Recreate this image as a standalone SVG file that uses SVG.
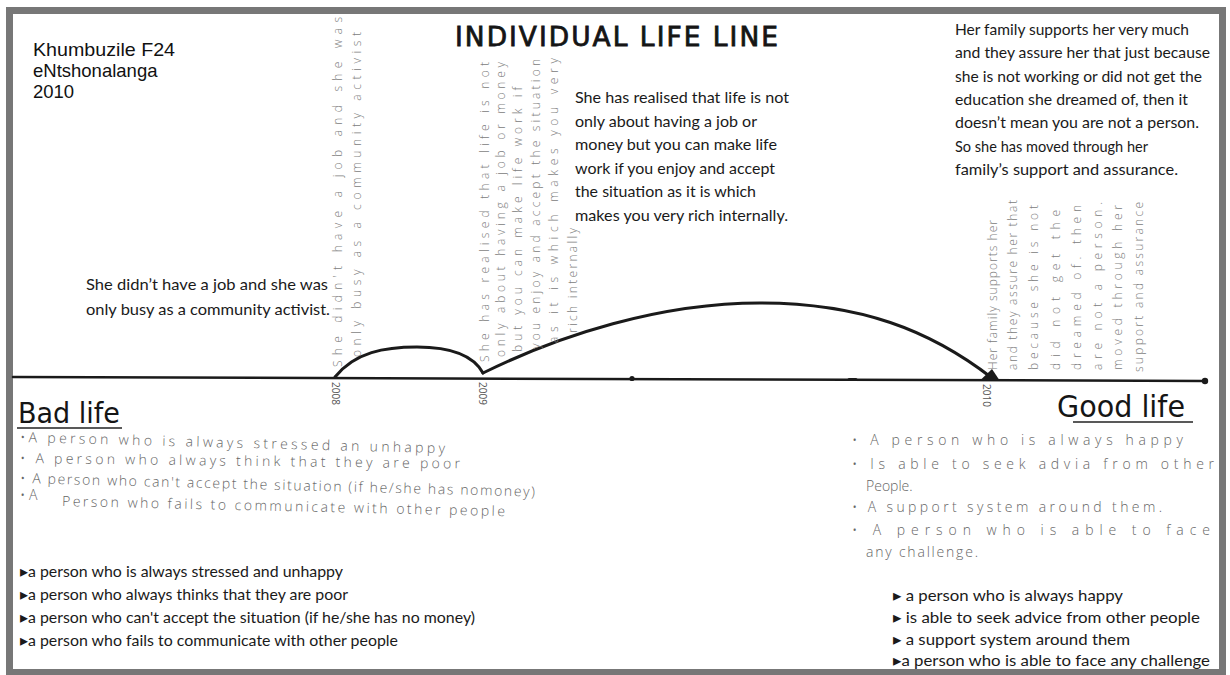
<svg xmlns="http://www.w3.org/2000/svg" width="1230" height="675" viewBox="0 0 1230 675">
<defs>
<style>
.t{font-family:Lato,"Liberation Sans",sans-serif;font-size:16px;fill:#1a1a1a}
.hd{font-family:"Liberation Sans",Arial,sans-serif;font-size:18.5px;fill:#111}
.hw{font-family:"Open Sans",Lato,sans-serif;font-weight:300;font-size:14px;fill:#666}
.hv{font-family:"Open Sans",Lato,sans-serif;font-weight:300;font-size:12px;fill:#808080}
.yr{font-family:"Open Sans",Lato,sans-serif;font-weight:400;font-size:10px;fill:#555}
.big{font-family:"DejaVu Sans",sans-serif;fill:#151515}
.ln{fill:none;stroke:#1a1a1a;stroke-linecap:round}
</style>
</defs>
<rect width="1230" height="675" fill="#ffffff"/>
<rect x="9.5" y="10.5" width="1213" height="662" fill="#ffffff" stroke="#777" stroke-width="7"/>

<g id="header">
<text class="hd" x="33" y="56" textLength="142" lengthAdjust="spacingAndGlyphs">Khumbuzile F24</text>
<text class="hd" x="33" y="77">eNtshonalanga</text>
<text class="hd" x="33" y="98">2010</text>
</g>

<g id="title">
<text class="big" x="455" y="46" font-size="26" stroke="#151515" stroke-width="0.8" letter-spacing="2" textLength="325" lengthAdjust="spacingAndGlyphs">INDIVIDUAL   LIFE LINE</text>
</g>

<g id="connectors">
<line class="ln" x1="13" y1="377" x2="1205" y2="381" stroke-width="2.5"/>
<circle cx="1205" cy="381" r="3.2" fill="#1a1a1a"/>
<circle cx="632" cy="378.5" r="2.6" fill="#1a1a1a"/>
<path class="ln" d="M849,379.5 L856,379.5" stroke-width="3"/>
<path class="ln" d="M335,377 C355,352 385,347 417,347 C447,347 472,353 483,373" stroke-width="3"/>
<path class="ln" d="M483,373 C560,335 660,303 760,303 C860,303 930,330 992,378" stroke-width="3"/>
<polygon points="980,380.5 992,369 1000,381" fill="#1a1a1a"/>
</g>

<g id="years">
<text class="yr" transform="translate(332,382) rotate(90)">2008</text>
<text class="yr" transform="translate(479,382) rotate(90)">2009</text>
<text class="yr" transform="translate(983,384) rotate(90)">2010</text>
</g>

<g id="event-1">
<text class="t" x="86" y="290" textLength="242" lengthAdjust="spacingAndGlyphs">She didn’t have a job and she was</text>
<text class="t" x="86" y="315" textLength="244" lengthAdjust="spacingAndGlyphs">only busy as a community activist.</text>
<text class="hv" transform="translate(342,367) rotate(-90)" textLength="350" lengthAdjust="spacing">She didn't have a job and she was</text>
<text class="hv" transform="translate(361,357) rotate(-90)" textLength="325" lengthAdjust="spacing">only busy as a community activist</text>
</g>

<g id="event-2">
<text class="t" x="575" y="103" textLength="214" lengthAdjust="spacingAndGlyphs">She has realised that life is not</text>
<text class="t" x="575" y="126.5" textLength="182" lengthAdjust="spacingAndGlyphs">only about having a job or</text>
<text class="t" x="575" y="150" textLength="202" lengthAdjust="spacingAndGlyphs">money but you can make life</text>
<text class="t" x="575" y="173.5" textLength="200" lengthAdjust="spacingAndGlyphs">work if you enjoy and accept</text>
<text class="t" x="575" y="197" textLength="181" lengthAdjust="spacingAndGlyphs">the situation as it is which</text>
<text class="t" x="575" y="220.5" textLength="213" lengthAdjust="spacingAndGlyphs">makes you very rich internally.</text>
<text class="hv" transform="translate(489,362) rotate(-90)" textLength="300" lengthAdjust="spacing">She has realised that life is not</text>
<text class="hv" transform="translate(505,357) rotate(-90)" textLength="295" lengthAdjust="spacing">only about having a job or money</text>
<text class="hv" transform="translate(522,352) rotate(-90)" textLength="265" lengthAdjust="spacing">but you can make life work if</text>
<text class="hv" transform="translate(540,349) rotate(-90)" textLength="290" lengthAdjust="spacing">you enjoy and accept the situation</text>
<text class="hv" transform="translate(558,343) rotate(-90)" textLength="285" lengthAdjust="spacing">as it is which makes you very</text>
<text class="hv" transform="translate(577,333) rotate(-90)" textLength="105" lengthAdjust="spacing">rich internally</text>
</g>

<g id="event-3">
<text class="t" x="955" y="35" textLength="234" lengthAdjust="spacingAndGlyphs">Her family supports her very much</text>
<text class="t" x="955" y="58.3" textLength="255" lengthAdjust="spacingAndGlyphs">and they assure her that just because</text>
<text class="t" x="955" y="81.6" textLength="247" lengthAdjust="spacingAndGlyphs">she is not working or did not get the</text>
<text class="t" x="955" y="104.9" textLength="233" lengthAdjust="spacingAndGlyphs">education she dreamed of, then it</text>
<text class="t" x="955" y="128.2" textLength="244" lengthAdjust="spacingAndGlyphs">doesn’t mean you are not a person.</text>
<text class="t" x="955" y="151.5" textLength="193" lengthAdjust="spacingAndGlyphs">So she has moved through her</text>
<text class="t" x="955" y="174.8" textLength="223" lengthAdjust="spacingAndGlyphs">family’s support and assurance.</text>
<text class="hv" transform="translate(997,370) rotate(-90)" textLength="150" lengthAdjust="spacing">Her family supports her</text>
<text class="hv" transform="translate(1017,370) rotate(-90)" textLength="170" lengthAdjust="spacing">and they assure her that</text>
<text class="hv" transform="translate(1038,370) rotate(-90)" textLength="165" lengthAdjust="spacing">because she is not</text>
<text class="hv" transform="translate(1060,370) rotate(-90)" textLength="160" lengthAdjust="spacing">did not get the</text>
<text class="hv" transform="translate(1081,370) rotate(-90)" textLength="165" lengthAdjust="spacing">dreamed of. then</text>
<text class="hv" transform="translate(1102,370) rotate(-90)" textLength="168" lengthAdjust="spacing">are not a person.</text>
<text class="hv" transform="translate(1122,370) rotate(-90)" textLength="165" lengthAdjust="spacing">moved through her</text>
<text class="hv" transform="translate(1143,372) rotate(-90)" textLength="170" lengthAdjust="spacing">support and assurance</text>
</g>

<g id="bad-life">
<text class="big" x="18" y="423" font-size="28" textLength="102" lengthAdjust="spacingAndGlyphs">Bad life</text>
<line x1="17" y1="428" x2="122" y2="428" stroke="#222" stroke-width="1.5"/>
<text class="hw" transform="translate(20,442) rotate(1.5)" textLength="425" lengthAdjust="spacing">•A person who is always stressed an unhappy</text>
<text class="hw" transform="translate(20,463) rotate(0.7)" textLength="440" lengthAdjust="spacing">• A person who always think that they are poor</text>
<text class="hw" transform="translate(20,483) rotate(1.5)" textLength="515" lengthAdjust="spacing">• A person who can't accept the situation (if he/she has nomoney)</text>
<text class="hw" x="20" y="500">• A</text>
<text class="hw" transform="translate(62,506) rotate(1.3)" textLength="443" lengthAdjust="spacing">Person who fails to communicate with other people</text>
<text class="t" x="20" y="577" textLength="323" lengthAdjust="spacingAndGlyphs">▸a person who is always stressed and  unhappy</text>
<text class="t" x="20" y="600" textLength="328" lengthAdjust="spacingAndGlyphs">▸a person who always thinks that they are poor</text>
<text class="t" x="20" y="623" textLength="455" lengthAdjust="spacingAndGlyphs">▸a person who can't accept the situation (if he/she has no money)</text>
<text class="t" x="20" y="646" textLength="378" lengthAdjust="spacingAndGlyphs">▸a person who fails to communicate with other people</text>
</g>

<g id="good-life">
<text class="big" x="1057" y="417" font-size="30" textLength="128" lengthAdjust="spacingAndGlyphs">Good life</text>
<line x1="1073" y1="422" x2="1193" y2="422" stroke="#222" stroke-width="1.5"/>
<text class="hw" x="852" y="445" textLength="331" lengthAdjust="spacing">• A person who is always happy</text>
<text class="hw" x="852" y="469" textLength="362" lengthAdjust="spacing">• Is able to seek advia from other</text>
<text class="hw" x="866" y="491">People.</text>
<text class="hw" x="852" y="512" textLength="310" lengthAdjust="spacing">• A support system around them.</text>
<text class="hw" x="852" y="535" textLength="358" lengthAdjust="spacing">• A person who is able to face</text>
<text class="hw" x="866" y="557" textLength="112" lengthAdjust="spacing">any challenge.</text>
<text class="t" x="893" y="601" textLength="230" lengthAdjust="spacingAndGlyphs">▸ a person who is always happy</text>
<text class="t" x="893" y="623" textLength="307" lengthAdjust="spacingAndGlyphs">▸ is able to seek advice from other people</text>
<text class="t" x="893" y="645" textLength="237" lengthAdjust="spacingAndGlyphs">▸ a support system around them</text>
<text class="t" x="893" y="666" textLength="317" lengthAdjust="spacingAndGlyphs">▸a person who is able to face  any challenge</text>
</g>
</svg>
